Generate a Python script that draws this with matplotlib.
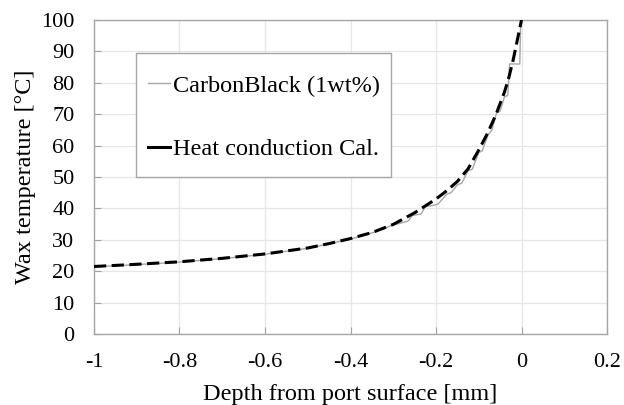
import numpy as np
import matplotlib
matplotlib.use("Agg")
import matplotlib.pyplot as plt
from matplotlib.patches import Rectangle

# heat conduction calculation (dashed)
calc_x = [-1.0, -0.9, -0.8, -0.7, -0.6, -0.5, -0.45, -0.4, -0.35, -0.3, -0.25,
          -0.2, -0.175, -0.15, -0.125, -0.1, -0.08, -0.06, -0.04, -0.03, -0.02,
          -0.01, 0.0]
calc_T = [21.5, 22.2, 23.0, 24.1, 25.5, 27.4, 28.8, 30.4, 32.3, 34.9, 38.6,
          43.0, 45.6, 48.6, 52.6, 58.6, 63.8, 69.8, 77.0, 81.5, 87.0,
          93.5, 100.0]

# measured, CarbonBlack (1wt%) - stepped
meas_x = [-1.0, -0.9, -0.8, -0.7, -0.6, -0.5, -0.4, -0.34, -0.3, -0.285, -0.265,
          -0.255, -0.235, -0.225, -0.205, -0.195, -0.175, -0.165, -0.15, -0.14,
          -0.125, -0.115, -0.1, -0.092, -0.078, -0.07, -0.058, -0.05, -0.04,
          -0.032, -0.028, -0.004, -0.002]
meas_T = [21.4, 22.1, 22.9, 24.0, 25.4, 27.3, 30.2, 32.6, 34.8, 35.2, 36.0,
          37.8, 38.2, 40.6, 41.0, 41.4, 44.5, 45.0, 47.5, 48.0,
          52.0, 52.5, 57.8, 58.3, 63.5, 64.8, 70.5, 71.0, 75.5,
          76.0, 86.0, 86.0, 100.0]

x_ticks = [-1, -0.8, -0.6, -0.4, -0.2, 0, 0.2]
x_labels = ["-1", "-0.8", "-0.6", "-0.4", "-0.2", "0", "0.2"]
y_ticks = list(range(0, 101, 10))

plt.rcParams['font.family'] = ['Liberation Serif', 'DejaVu Serif']

fig, ax = plt.subplots(figsize=(6.24, 4.05), dpi=100)
fig.subplots_adjust(left=0.1506, right=0.9728, top=0.9506, bottom=0.1753)

ax.plot(meas_x, meas_T, color='#a6a6a6', lw=1.0, zorder=3)
ax.plot(calc_x, calc_T, color='black', lw=2.2, dashes=(4, 1.8), zorder=4)

ax.set_xlim(-1, 0.2)
ax.set_ylim(0, 100)
ax.set_xticks(x_ticks)
ax.set_xticklabels(x_labels)
ax.set_yticks(y_ticks)
ax.tick_params(direction='in', length=5, width=0.8, color='#a0a0a0',
               labelsize=16, pad=14)
ax.grid(True, color='#e6e6e6', lw=0.9)
ax.set_axisbelow(True)
for s in ax.spines.values():
    s.set_color('#a6a6a6')
    s.set_linewidth(1.0)

ax.set_xlabel('Depth from port surface [mm]', fontsize=17.5)
ax.set_ylabel('Wax temperature [°C]', fontsize=17.5)
ax.xaxis.set_label_coords(0.5, -0.159)
ax.yaxis.set_label_coords(-0.113, 0.5)

# legend frame drawn by hand, entries without frame
ax.add_patch(Rectangle((0.0819, 0.5), 0.497, 0.395, transform=ax.transAxes,
                       facecolor='white', edgecolor='#a6a6a6', lw=1.0, zorder=5))
h1, = ax.plot([], [], color='#a6a6a6', lw=1.0)
h2, = ax.plot([], [], color='black', lw=2.2)
leg = ax.legend([h1, h2], ['CarbonBlack (1wt%)', 'Heat conduction Cal.'],
                loc='upper left', bbox_to_anchor=(0.105, 0.826),
                borderaxespad=0, borderpad=0, fontsize=17.5, handlelength=0.9,
                handletextpad=0.15, labelspacing=1.72, frameon=False)
leg.set_zorder(6)

fig.savefig('out.png', dpi=100)
